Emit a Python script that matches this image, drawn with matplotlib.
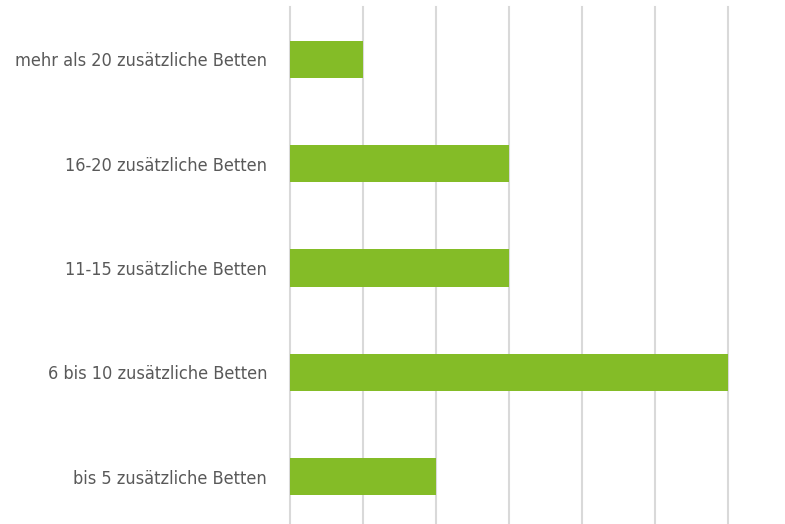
import matplotlib.pyplot as plt

# data, top to bottom in the picture
categories = ["mehr als 20 zusätzliche Betten", "16-20 zusätzliche Betten",
              "11-15 zusätzliche Betten", "6 bis 10 zusätzliche Betten",
              "bis 5 zusätzliche Betten"]
values = [1, 3, 3, 6, 2]

plt.rcParams['font.family'] = ['DejaVu Sans']
plt.rcParams['font.stretch'] = 'condensed'

fig = plt.figure(figsize=(7.85, 5.24), dpi=100)
ax = fig.add_axes([290 / 785, -5 / 524, 438 / 785, 522 / 524])

pos = list(range(len(categories)))[::-1]
ax.barh(pos, values, height=0.355, color="#84bc27", zorder=3)

ax.set_xlim(0, 6)
ax.set_ylim(-0.5, 4.5)
ax.set_yticks(pos)
ax.set_yticklabels(categories, fontsize=13, color="#595959", fontstretch='condensed')
ax.set_xticks(range(0, 7))
ax.set_xticklabels([])
ax.tick_params(length=0, pad=16.5)
ax.grid(axis="x", color="#d9d9d9", linewidth=1.5, zorder=0)
for gl in ax.get_xgridlines():
    gl.set_clip_on(False)
for s in ax.spines.values():
    s.set_visible(False)

fig.savefig("out.png", dpi=100)
